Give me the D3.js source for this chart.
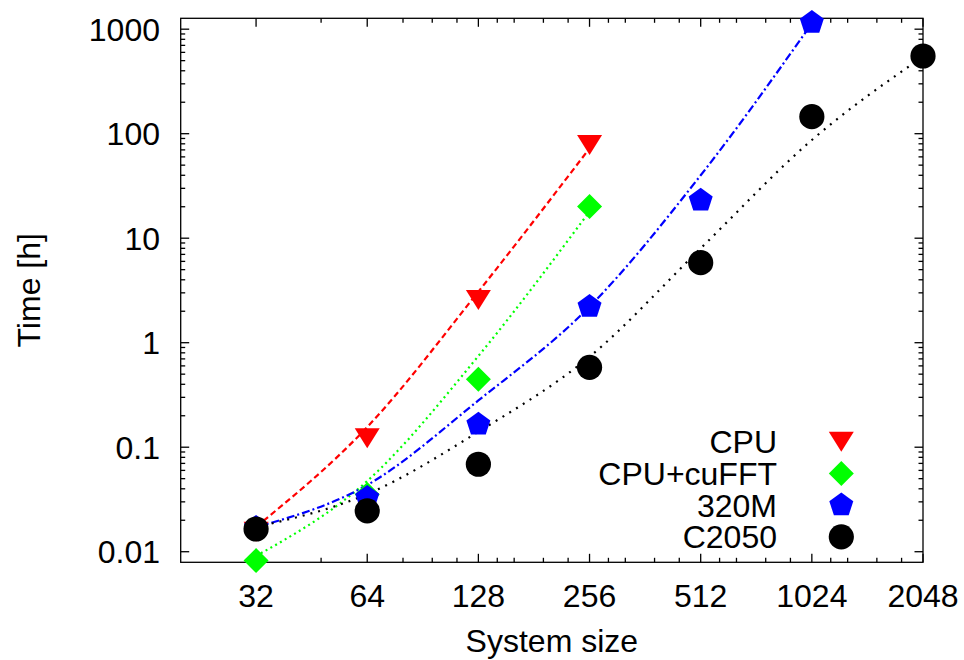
<!DOCTYPE html>
<html>
<head>
<meta charset="utf-8">
<script src="https://cdn.jsdelivr.net/npm/d3@7"></script>
<style>
  body { margin: 0; background: #fff; }
  svg text { font-family: "Liberation Sans", Arial, sans-serif; fill: #000; }
</style>
</head>
<body>
<div id="chart"></div>
<script>
// system sizes (x axis, log base 2)
const sizes = [32, 64, 128, 256, 512, 1024, 2048]
const xTickLabels = ['32', '64', '128', '256', '512', '1024', '2048']
const xMinorTicks = [48, 80, 96, 112, 144, 160, 192, 224, 288, 320, 384, 448, 576, 640, 768, 896, 1152, 1280, 1536, 1792]
const yTicks = [0.01, 0.1, 1, 10, 100, 1000]
const yTickLabels = ['0.01', '0.1', '1', '10', '100', '1000']

// measured times [h]
const cpuTime = [0.0155, 0.1216, 2.56, 78]
const cufftTime = [0.00823, 0.0352, 0.447, 20.1]
const m320Time = [0.017, 0.033, 0.1655, 2.215, 23.05, 1156]
const c2050Time = [0.0165, 0.0246, 0.0687, 0.5815, 5.83, 145.4, 554]

// fitted curves at each size
const cpuFit = [0.0173, 0.156, 3.08, 72.4]
const cufftFit = [0.0091, 0.0475, 0.746, 18]
const m320Fit = [0.0172, 0.0435, 0.28, 2.21, 40, 1133]
const c2050Fit = [0.0172, 0.0356, 0.1406, 0.734, 8.0, 87, 546]

const seriesNames = ['CPU', 'CPU+cuFFT', '320M', 'C2050']

const W = 964, H = 660
const margin = { top: 18.3, left: 180.7, right: 41, bottom: 97.7 }
const fontSize = 32

const svg = d3.select('#chart').append('svg')
              .attr('width', W)
              .attr('height', H)

const x = d3.scaleLog().base(2)
            .domain([20, 2048])
            .range([margin.left, W - margin.right])
const y = d3.scaleLog()
            .domain([0.00792, 1271])
            .range([H - margin.bottom, margin.top])

const x0 = x.range()[0], x1 = x.range()[1]
const y0 = y.range()[0], y1 = y.range()[1]

// ---- axes (gnuplot style: ticks inward, mirrored) ----
const ax = svg.append('g').attr('stroke', '#000').attr('stroke-width', 1.3)
const majLen = 8.5, minLen = 4.5

sizes.forEach(v => {
    ax.append('line').attr('x1', x(v)).attr('x2', x(v)).attr('y1', y0).attr('y2', y0 - majLen)
    ax.append('line').attr('x1', x(v)).attr('x2', x(v)).attr('y1', y1).attr('y2', y1 + majLen)
})
xMinorTicks.forEach(v => {
    ax.append('line').attr('x1', x(v)).attr('x2', x(v)).attr('y1', y0).attr('y2', y0 - minLen)
    ax.append('line').attr('x1', x(v)).attr('x2', x(v)).attr('y1', y1).attr('y2', y1 + minLen)
})
yTicks.forEach(v => {
    ax.append('line').attr('x1', x0).attr('x2', x0 + majLen).attr('y1', y(v)).attr('y2', y(v))
    ax.append('line').attr('x1', x1).attr('x2', x1 - majLen).attr('y1', y(v)).attr('y2', y(v))
})
yTicks.slice(0, -1).forEach(dec => {
    for (let k = 2; k <= 9; k++) {
        const v = dec * k
        ax.append('line').attr('x1', x0).attr('x2', x0 + minLen).attr('y1', y(v)).attr('y2', y(v))
        ax.append('line').attr('x1', x1).attr('x2', x1 - minLen).attr('y1', y(v)).attr('y2', y(v))
    }
})
ax.append('rect')
  .attr('x', x0).attr('y', y1)
  .attr('width', x1 - x0).attr('height', y0 - y1)
  .attr('fill', 'none')

// tick labels
svg.selectAll('.xlab')
   .data(sizes)
   .join('text')
   .attr('class', 'xlab')
   .attr('x', d => x(d))
   .attr('y', 606.5)
   .attr('text-anchor', 'middle')
   .attr('font-size', fontSize)
   .text((d, i) => xTickLabels[i])

svg.selectAll('.ylab')
   .data(yTicks)
   .join('text')
   .attr('class', 'ylab')
   .attr('x', 160)
   .attr('y', d => y(d))
   .attr('dy', '0.36em')
   .attr('text-anchor', 'end')
   .attr('font-size', fontSize)
   .text((d, i) => yTickLabels[i])

// axis titles
svg.append('text')
   .attr('x', (x0 + x1) / 2)
   .attr('y', 652)
   .attr('text-anchor', 'middle')
   .attr('font-size', fontSize)
   .text('System size')
svg.append('text')
   .attr('transform', `translate(40,${(y0 + y1) / 2}) rotate(-90)`)
   .attr('text-anchor', 'middle')
   .attr('font-size', fontSize)
   .text('Time [h]')

// ---- markers ----
const pentagon = (() => {
    const R = 12.6
    let pts = []
    for (let i = 0; i < 5; i++) {
        const a = -Math.PI / 2 + i * 2 * Math.PI / 5
        pts.push([R * Math.cos(a), R * Math.sin(a)])
    }
    return 'M' + pts.map(p => p.join(',')).join('L') + 'Z'
})()
const markerPath = {
    'CPU': 'M-12.5,-10L12.5,-10L0,10Z',
    'CPU+cuFFT': 'M0,-12.5L12.5,0L0,12.5L-12.5,0Z',
    '320M': pentagon,
    'C2050': d3.symbol(d3.symbolCircle, Math.PI * 12.6 * 12.6)()
}

const series = [
    { name: 'CPU', color: '#ff0000', dash: '6,3.5', time: cpuTime, fit: cpuFit },
    { name: 'CPU+cuFFT', color: '#00ff00', dash: '2,3.5', time: cufftTime, fit: cufftFit },
    { name: '320M', color: '#0000ff', dash: '8,3,2,3', time: m320Time, fit: m320Fit },
    { name: 'C2050', color: '#000000', dash: '2,6', time: c2050Time, fit: c2050Fit }
]

const line = d3.line()
               .x(d => x(d[0]))
               .y(d => y(d[1]))
               .curve(d3.curveMonotoneX)

// fit lines first
series.forEach(s => {
    svg.append('path')
       .datum(s.fit.map((v, i) => [sizes[i], v]))
       .attr('d', line)
       .attr('fill', 'none')
       .attr('stroke', s.color)
       .attr('stroke-width', 2.2)
       .attr('stroke-dasharray', s.dash)
})

// then the points
series.forEach(s => {
    svg.append('g')
       .selectAll('path')
       .data(s.time.map((v, i) => [sizes[i], v]))
       .join('path')
       .attr('transform', d => `translate(${x(d[0])},${y(d[1])})`)
       .attr('d', markerPath[s.name])
       .attr('fill', s.color)
})

// ---- legend ----
const legend = svg.append('g')
series.forEach((s, i) => {
    const ly = 441.7 + i * 31.7
    legend.append('text')
          .attr('x', 777)
          .attr('y', ly)
          .attr('dy', '0.36em')
          .attr('text-anchor', 'end')
          .attr('font-size', fontSize)
          .text(seriesNames[i])
    legend.append('path')
          .attr('transform', `translate(841.3,${ly})`)
          .attr('d', markerPath[s.name])
          .attr('fill', s.color)
})
</script>
</body>
</html>
